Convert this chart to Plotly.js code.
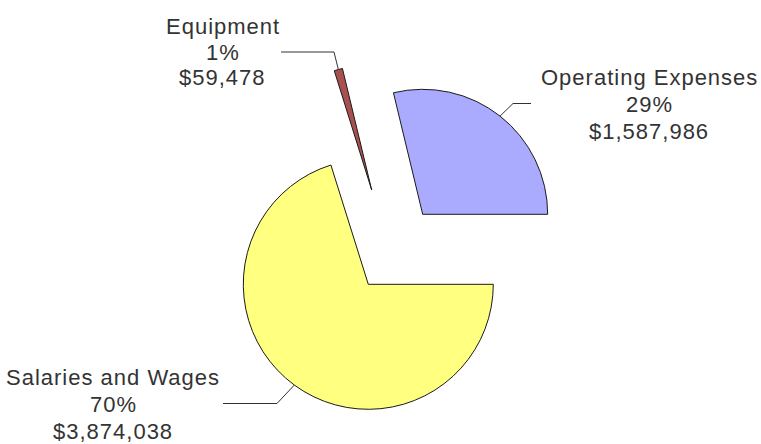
<!DOCTYPE html>
<html>
<head>
<meta charset="utf-8">
<script src="https://cdn.plot.ly/plotly-3.0.1.min.js"></script>
<style>
  html, body { margin: 0; padding: 0; background: #ffffff; }
  #chart { width: 761px; height: 444px; }
  .annotation-text { letter-spacing: 1px; }
</style>
</head>
<body>
<div id="chart"></div>
<script>
// ---- data ----
const labels = ['Salaries and Wages', 'Equipment', 'Operating Expenses'];
const values = [3874038, 59478, 1587986];
const colors = ['#FFFF80', '#A8504F', '#AAAAFF'];

// ---- layout constants (pixels) ----
const W = 761, H = 444, R = 125;
const centers = [[368.3, 284.3], [371.7, 190], [422.7, 214.3]];   // exploded slice centres
const labelX = [113, 223, 649];
const labelY = [[377.9, 404.6, 431.2], [26.2, 52.2, 78.0], [77.2, 104.9, 131.2]];
const leaderStart = [[223, 403.5], [281, 52], [531, 103.5]];
const leaderElbow = [[277, 403.5], [334, 52], [513, 103.5]];
const ROT = 90;

const px = x => x / W;
const py = y => 1 - y / H;

const total = values.reduce((a, b) => a + b, 0);
const traces = [];
const annotations = [];
const shapes = [];
let cum = 0;

values.forEach((v, i) => {
  const [cx, cy] = centers[i];
  traces.push({
    type: 'pie',
    values: values,
    labels: labels,
    sort: false,
    direction: 'clockwise',
    rotation: ROT,
    textinfo: 'none',
    hoverinfo: 'skip',
    showlegend: false,
    marker: {
      colors: colors.map((c, j) => j === i ? c : 'rgba(0,0,0,0)'),
      line: {
        color: colors.map((c, j) => j === i ? '#1a1a1a' : 'rgba(0,0,0,0)'),
        width: colors.map((c, j) => j === i ? 1 : 0)
      }
    },
    domain: {
      x: [px(cx - R), px(cx + R)],
      y: [py(cy + R), py(cy - R)]
    }
  });

  // mid angle of slice i (clockwise from 12 o'clock)
  const mid = (ROT + 360 * (cum + v / 2) / total) * Math.PI / 180;
  cum += v;
  const mx = cx + R * Math.sin(mid);
  const my = cy - R * Math.cos(mid);

  const pct = Math.round(v / total * 100) + '%';
  const money = '$' + v.toLocaleString('en-US');
  [labels[i], pct, money].forEach((t, k) => {
    annotations.push({
      text: t, x: px(labelX[i]), y: py(labelY[i][k]),
      xref: 'paper', yref: 'paper', xanchor: 'center', yanchor: 'middle',
      showarrow: false,
      font: { family: 'Liberation Sans, Arial, sans-serif', size: 22, color: '#333333' }
    });
  });

  shapes.push({
    type: 'path', xref: 'paper', yref: 'paper',
    path: 'M ' + px(leaderStart[i][0]) + ',' + py(leaderStart[i][1]) +
          ' L ' + px(leaderElbow[i][0]) + ',' + py(leaderElbow[i][1]) +
          ' L ' + px(mx) + ',' + py(my),
    line: { color: '#333333', width: 1 }
  });
});

const layout = {
  width: W, height: H,
  margin: { l: 0, r: 0, t: 0, b: 0 },
  paper_bgcolor: '#ffffff',
  plot_bgcolor: '#ffffff',
  showlegend: false,
  annotations: annotations,
  shapes: shapes
};

Plotly.newPlot('chart', traces, layout, { staticPlot: true, displayModeBar: false });
</script>
</body>
</html>
